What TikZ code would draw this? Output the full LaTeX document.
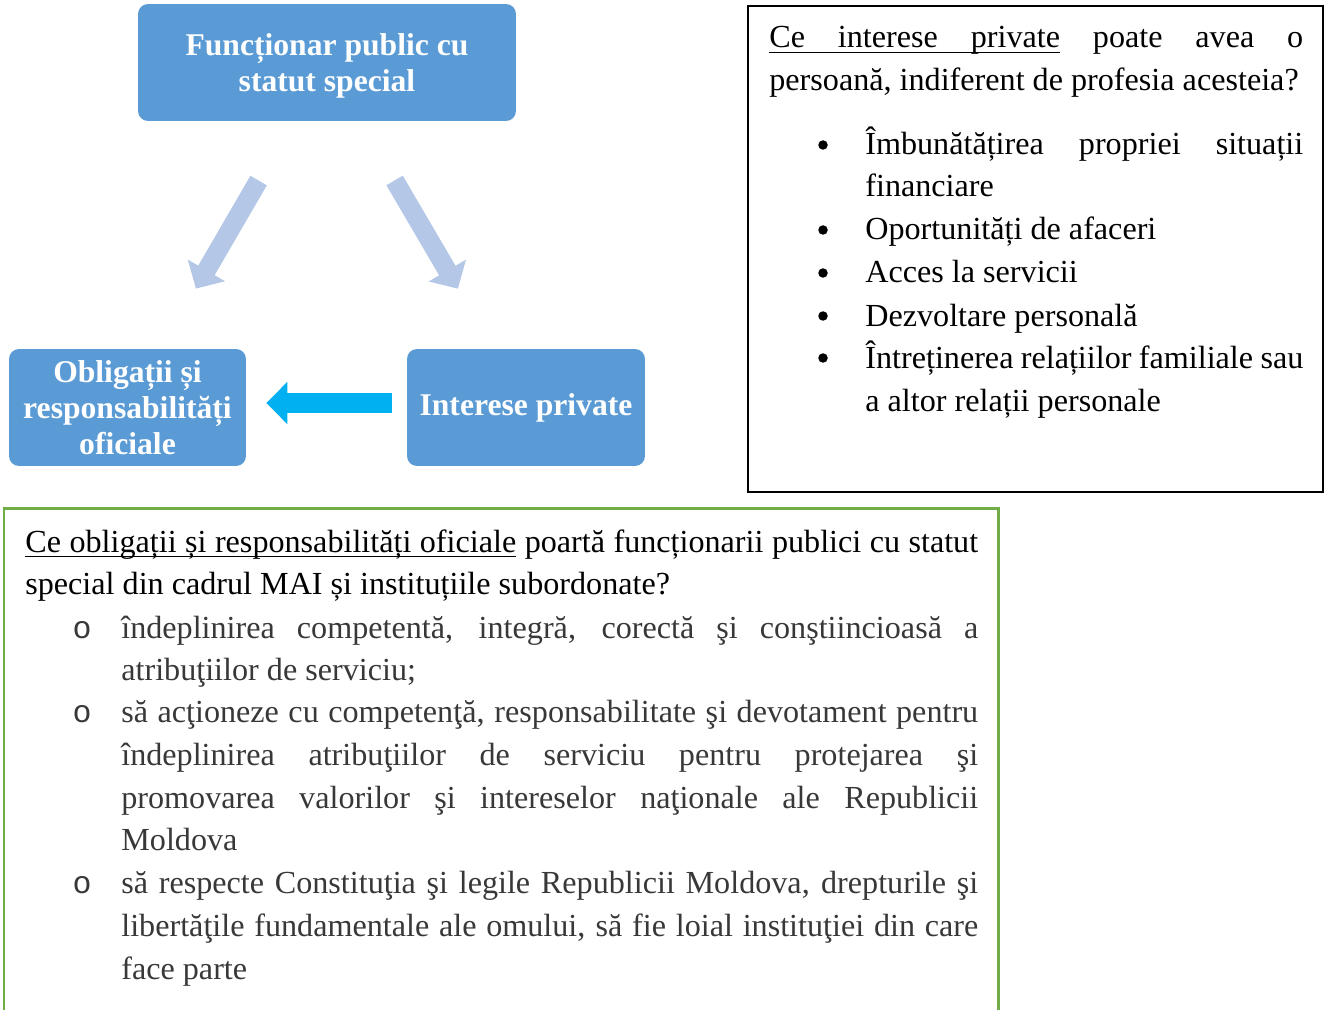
\documentclass[tikz,border=0pt]{standalone}
\usepackage{fontspec}
\setmainfont{Liberation Serif}
\newfontfamily\ringfont{Liberation Mono}
\usetikzlibrary{arrows.meta}

\definecolor{boxblue}{HTML}{5B9BD5}
\definecolor{paleblue}{HTML}{B4C7E7}
\definecolor{arrowcyan}{HTML}{00B0F0}
\definecolor{framegreen}{HTML}{70AD47}

% underlined word and underlined stretchable gap
\newcommand\ulw[1]{\setbox0\hbox{#1}\rlap{\vrule height -2pt depth 2.9pt width \wd0}\box0\relax}
\newcommand\uls{\leaders\hrule height -2pt depth 2.9pt\hskip\fontdimen2\font plus\fontdimen3\font minus\fontdimen4\font\relax}

\tikzset{
  box/.style={rectangle, fill=boxblue, rounded corners=0.2cm, text=white, align=center,
    font=\bfseries\fontsize{18}{20.4}\selectfont, minimum height=2.34cm, inner sep=0pt},
  softarrow/.style={draw=paleblue, line width=0.38cm, -{Triangle[length=0.42cm,width=0.84cm]}},
  hardarrow/.style={draw=arrowcyan, line width=0.42cm, -{Triangle[length=0.42cm,width=0.82cm]}},
  txt/.style={anchor=base west, inner sep=0pt, font=\fontsize{18.3}{24}\selectfont},
  gtxt/.style={txt, text=black!78},
  bulletdot/.style={circle, fill=black, inner sep=0pt, minimum size=0.19cm},
  ringmark/.style={anchor=base, inner sep=0pt, text=black!78, font=\ringfont\fontsize{18}{24}\selectfont}
}

\begin{document}
\begin{tikzpicture}[x=0.02cm, y=-0.02cm]
  \useasboundingbox (0,0) rectangle (1329,1010);

  % diagram
  \node[box, minimum width=7.56cm] (fps) at (327,62.5) {\rule{0pt}{16pt}Funcționar public cu\\statut special};
  \node[box, minimum width=4.74cm] (obl) at (127.5,407.5) {Obligații și\\responsabilități\\oficiale};
  \node[box, minimum width=4.76cm] (ip) at (526,407.5) {Interese private};

  \draw[softarrow, shorten <=1.37cm, shorten >=1.39cm] (fps.south -| 293,0) -- (obl.north -| 161,0);
  \draw[softarrow, shorten <=1.37cm, shorten >=1.39cm] (fps.south -| 360,0) -- (ip.north -| 493,0);
  \draw[hardarrow, shorten <=0.3cm, shorten >=0.4cm] ([yshift=0.09cm]ip.west) -- ([yshift=0.09cm]obl.east);

  % private interests box
  \node[draw, line width=0.04cm, minimum width=11.5cm, minimum height=9.72cm, inner sep=0pt] (privbox) at (1035.5,249) {};
  \node[txt] (r1) at (769,48) {\makebox[10.68cm][s]{\ulw{Ce}\uls\ulw{interese}\uls\ulw{private} poate avea o}};
  \node[txt] (r2) at (769,91) {persoană, indiferent de profesia acesteia?};
  \foreach \y in {145,230,273,316,358}
    \node[bulletdot] (dot\y) at (823,\y) {};
  \node[txt] (r3) at (865,155) {\makebox[8.76cm][s]{Îmbunătățirea propriei situații}};
  \node[txt] (r4) at (865,197) {financiare};
  \node[txt] (r5) at (865,240) {Oportunități de afaceri};
  \node[txt] (r6) at (865,283) {Acces la servicii};
  \node[txt] (r7) at (865,326) {Dezvoltare personală};
  \node[txt] (r8) at (865,368) {\makebox[8.76cm][s]{Întreținerea relațiilor familiale sau}};
  \node[txt] (r9) at (865,411) {a altor relații personale};

  % official duties box
  \draw[framegreen, line width=0.06cm] (4,1020) -- (4,508) -- (998,508) -- (998,1020);
  \node[txt] (g1) at (25,552) {\makebox[19.06cm][s]{\ulw{Ce}\uls\ulw{obligații}\uls\ulw{și}\uls\ulw{responsabilități}\uls\ulw{oficiale} poartă funcționarii publici cu statut}};
  \node[txt] (g2) at (25,594) {special din cadrul MAI și instituțiile subordonate?};
  \foreach \y in {638,722,893}
    \node[ringmark] (ring\y) at (82,\y) {o};
  \node[gtxt] (g3) at (121,638) {\makebox[17.14cm][s]{îndeplinirea competentă, integră, corectă şi conştiincioasă a}};
  \node[gtxt] (g4) at (121,680) {atribuţiilor de serviciu;};
  \node[gtxt] (g5) at (121,722) {\makebox[17.14cm][s]{să acţioneze cu competenţă, responsabilitate şi devotament pentru}};
  \node[gtxt] (g6) at (121,765) {\makebox[17.14cm][s]{îndeplinirea atribuţiilor de serviciu pentru protejarea şi}};
  \node[gtxt] (g7) at (121,808) {\makebox[17.14cm][s]{promovarea valorilor şi intereselor naţionale ale Republicii}};
  \node[gtxt] (g8) at (121,850) {Moldova};
  \node[gtxt] (g9) at (121,893) {\makebox[17.14cm][s]{să respecte Constituţia şi legile Republicii Moldova, drepturile şi}};
  \node[gtxt] (g10) at (121,936) {\makebox[17.14cm][s]{libertăţile fundamentale ale omului, să fie loial instituţiei din care}};
  \node[gtxt] (g11) at (121,979) {face parte};
\end{tikzpicture}
\end{document}
